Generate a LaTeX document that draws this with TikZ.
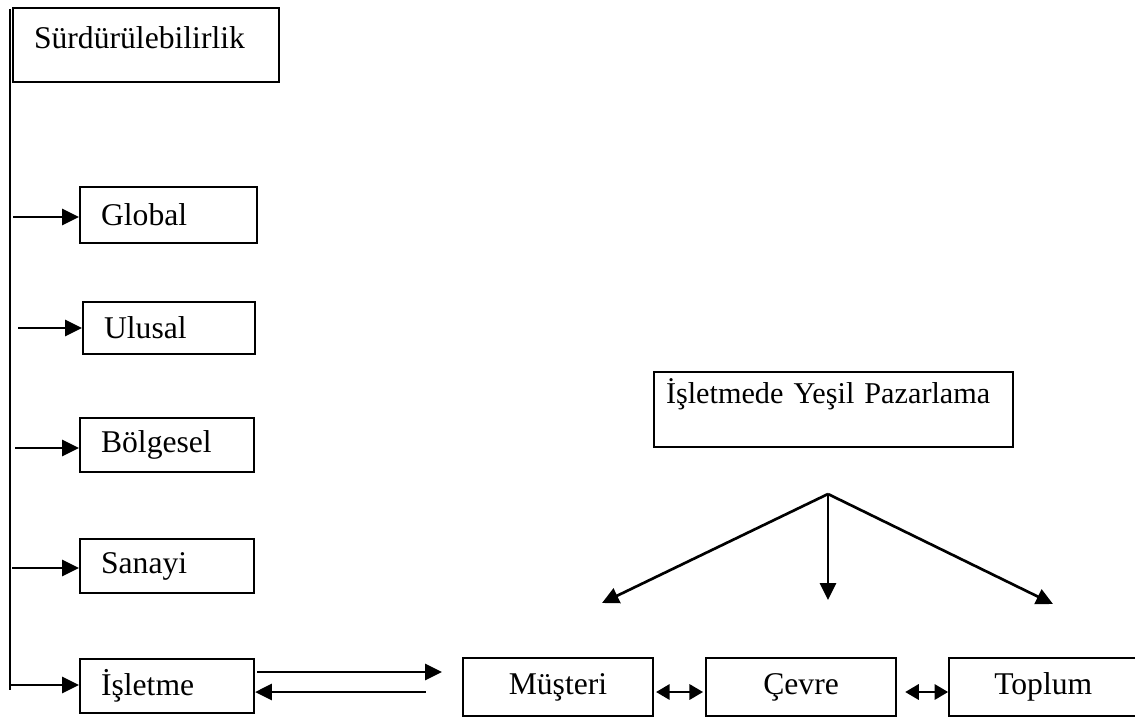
\documentclass[tikz,border=0pt]{standalone}
\usepackage{fontspec}
\setmainfont{Liberation Serif}
\usepackage{tikz}
\usetikzlibrary{positioning, arrows.meta, calc}

\begin{document}
\begin{tikzpicture}[-,auto,node distance=1.275cm,line width=1.9pt,
                    tip/.style={-{Triangle[length=0.42cm,width=0.4cm]}},
                    both tip/.style={{Triangle[length=0.34cm,width=0.38cm]}-{Triangle[length=0.34cm,width=0.38cm]}},
                    main node/.style={rectangle,draw,line width=1.5pt,font=\fontsize{22.5}{27}\selectfont},
                    level node/.style={main node,anchor=west,inner xsep=0.525cm,text width=3.3cm,align=left,minimum height=1.35cm},
                    pair node/.style={main node,minimum width=4.75cm,minimum height=1.45cm}]

  \useasboundingbox (0,0) rectangle (28.375,-18);

  \node[main node,anchor=north west,inner xsep=0.525cm,inner ysep=0pt,text width=5.6cm,align=left,
        text height=1cm,text depth=0.85cm] (sur) at (0.3,-0.175) {Sürdürülebilirlik};
  \node[level node,minimum height=1.4cm,text width=3.375cm] (glo) at (1.975,-5.375) {Global};
  \node[level node,minimum height=1.3cm,text width=3.25cm] (ulu) at (2.05,-8.2) {Ulusal};
  \node[level node] (bol) at (1.975,-11.125) {Bölgesel};
  \node[level node] (san) at (1.975,-14.15) {Sanayi};
  \node[level node] (isl) at (1.975,-17.15) {İşletme};

  \node[main node,minimum height=1.875cm,inner xsep=0.3cm,inner ysep=0pt,text width=8.375cm,align=left,
        text height=0.775cm,text depth=1.1cm,font=\fontsize{21.5}{25}\selectfont] (yes) at (20.8375,-10.2375) {İşletmede Yeşil Pazarlama};

  \node[pair node] (mus) at (13.95,-17.175) {Müşteri};
  \node[pair node] (cev) [right=of mus] {Çevre};
  \node[pair node,minimum width=4.7cm] (topl) [right=of cev] {Toplum};

  \coordinate (vtop) at (0.25,-0.225);
  \coordinate (vbot) at (0.25,-17.25);
  \coordinate (g0) at (0.325,-5.425);
  \coordinate (u0) at (0.45,-8.2);
  \coordinate (b0) at (0.375,-11.2);
  \coordinate (s0) at (0.3,-14.2);
  \coordinate (i0) at (0.225,-17.125);
  \coordinate (out) at ($(isl.east)+(0.05,0.35)$);
  \coordinate (back) at ($(mus.west)+(-0.9,-0.125)$);
  \coordinate (split) at (20.7,-12.35);
  \coordinate (leftend) at (15.05,-15.075);
  \coordinate (midend) at (20.7,-15.0);
  \coordinate (rightend) at (26.325,-15.1);

  \draw (vtop) -- (vbot);

  \path[tip]
    (g0) edge (g0 -| glo.west)
    (u0) edge (u0 -| ulu.west)
    (b0) edge (b0 -| bol.west)
    (s0) edge (s0 -| san.west)
    (i0) edge (i0 -| isl.west)
    (out) edge[shorten >=0.5cm] (out -| mus.west)
    (back) edge (back -| isl.east)
    (split) edge (leftend)
    edge (midend)
    edge (rightend);

  \path[both tip]
    ([xshift=0.05cm,yshift=-0.125cm]mus.east) edge ([xshift=-0.05cm,yshift=-0.125cm]cev.west)
    ([xshift=0.2cm,yshift=-0.125cm]cev.east) edge ([yshift=-0.125cm]topl.west);

\end{tikzpicture}
\end{document}
